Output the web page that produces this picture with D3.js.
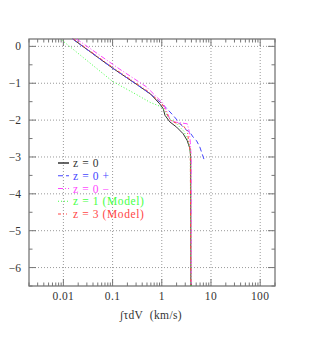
<!DOCTYPE html>
<html>
<head>
<meta charset="utf-8">
<script src="https://cdn.jsdelivr.net/npm/d3@7/dist/d3.min.js"></script>
<style>
  body { margin: 0; background: #fff; }
</style>
</head>
<body>
<div id="chart"></div>
<script>
// Series: [tau*dV (km/s), log value]
const z0 = [[0.0155, 0.2], [0.03, -0.08], [0.1, -0.59], [0.3, -1.02], [0.6, -1.3], [0.91, -1.56],
  [1.07, -1.69], [1.16, -1.87], [1.46, -2.05], [2.0, -2.19], [2.72, -2.37], [3.27, -2.55],
  [3.72, -2.77], [3.87, -3.0], [3.9, -6.5]];
const z0plus = [[0.0155, 0.2], [0.03, -0.08], [0.1, -0.59], [0.3, -1.02], [0.6, -1.3], [1.0, -1.55],
  [1.25, -1.68], [1.7, -1.87], [2.5, -2.14], [3.18, -2.27], [3.72, -2.33], [4.33, -2.46],
  [5.08, -2.56], [5.93, -2.73], [6.4, -2.86], [7.5, -3.13]];
const z0minus = [[0.0185, 0.2], [0.14, -0.62], [0.49, -1.1], [1.07, -1.55], [1.3, -1.8], [1.5, -2.02],
  [2.0, -2.06], [3.3, -2.1], [3.6, -2.3], [3.8, -2.6], [3.95, -3.0], [3.95, -6.5]];
const z1model = [[0.0093, 0.17], [0.1, -0.95], [0.3, -1.3], [0.58, -1.52], [0.9, -1.62], [1.1, -1.72],
  [1.4, -1.95], [2.0, -2.1], [2.8, -2.3], [3.4, -2.55], [3.8, -2.85], [3.92, -6.5]];
const z3model = [[0.016, 0.2], [0.1, -0.57], [0.5, -1.2], [1.0, -1.55], [1.2, -1.75], [1.4, -1.95],
  [1.7, -2.05], [2.7, -2.14], [3.3, -2.3], [3.5, -2.55], [3.8, -2.85], [3.9, -6.5]];

const seriesNames = ["z = 0", "z = 0 +", "z = 0 \u2212", "z = 1 (Model)", "z = 3 (Model)"];
const seriesColors = ["#333333", "#4646ff", "#ff46ff", "#46ff46", "#ff4646"];
const seriesDash = [null, "5,3", "5,2,1,2", "1,2", "3,2,1,2,1,2"];
const seriesData = [z0, z0plus, z0minus, z1model, z3model];

const xTicks = [0.01, 0.1, 1, 10, 100];
const xTickLabels = ["0.01", "0.1", "1", "10", "100"];
const yTicks = [0, -1, -2, -3, -4, -5, -6];

const font = "'Liberation Serif', 'Times New Roman', serif";
const width = 314, height = 344;
const margin = { top: 39, right: 39, bottom: 58, left: 29 };

const svg = d3.select("#chart").append("svg")
  .attr("width", width)
  .attr("height", height)
  .attr("font-family", font);

const x = d3.scaleLog().domain([0.002, 200]).range([margin.left, width - margin.right]);
const y = d3.scaleLinear().domain([-6.5, 0.2]).range([height - margin.bottom, margin.top]);

// grid
svg.append("g").selectAll("line")
  .data(xTicks).join("line")
  .attr("x1", d => x(d)).attr("x2", d => x(d))
  .attr("y1", y.range()[0]).attr("y2", y.range()[1])
  .attr("stroke", "#999").attr("stroke-dasharray", "1,2");
svg.append("g").selectAll("line")
  .data(yTicks).join("line")
  .attr("y1", d => y(d)).attr("y2", d => y(d))
  .attr("x1", x.range()[0]).attr("x2", x.range()[1])
  .attr("stroke", "#999").attr("stroke-dasharray", "1,2");

// minor ticks
const minorX = [];
for (let e = -3; e <= 2; e++) {
  for (let m = 1; m <= 9; m++) {
    const v = m * Math.pow(10, e);
    if (v >= 0.002 && v <= 200) minorX.push(v);
  }
}
const minorY = d3.range(-6.5, 0.21, 0.5);

const axisG = svg.append("g").attr("stroke", "#777").attr("stroke-width", 1);
const yb = y.range()[0], yt = y.range()[1], xl = x.range()[0], xr = x.range()[1];
minorX.forEach(v => {
  const len = xTicks.includes(v) ? 7 : 3.5;
  axisG.append("line").attr("x1", x(v)).attr("x2", x(v)).attr("y1", yb).attr("y2", yb - len);
  axisG.append("line").attr("x1", x(v)).attr("x2", x(v)).attr("y1", yt).attr("y2", yt + len);
});
minorY.forEach(v => {
  const len = Number.isInteger(v) ? 7 : 3.5;
  axisG.append("line").attr("y1", y(v)).attr("y2", y(v)).attr("x1", xl).attr("x2", xl + len);
  axisG.append("line").attr("y1", y(v)).attr("y2", y(v)).attr("x1", xr).attr("x2", xr - len);
});

// frame
svg.append("rect")
  .attr("x", xl).attr("y", yt)
  .attr("width", xr - xl).attr("height", yb - yt)
  .attr("fill", "none").attr("stroke", "#777").attr("stroke-width", 1.3);

// tick labels
svg.append("g").selectAll("text")
  .data(xTicks).join("text")
  .attr("x", d => x(d)).attr("y", yb + 13.5)
  .attr("text-anchor", "middle")
  .attr("font-size", 11.5).attr("fill", "#333")
  .attr("letter-spacing", 0.4)
  .text((d, i) => xTickLabels[i]);
svg.append("g").selectAll("text")
  .data(yTicks).join("text")
  .attr("x", xl - 8).attr("y", d => y(d) + 4)
  .attr("text-anchor", "end")
  .attr("font-size", 11.5).attr("fill", "#333")
  .text(d => d === 0 ? "0" : "\u2212" + Math.abs(d));

// axis title
svg.append("text")
  .attr("x", 151).attr("y", 319)
  .attr("text-anchor", "middle")
  .attr("font-size", 11.5).attr("fill", "#333")
  .attr("letter-spacing", 0.4)
  .attr("xml:space", "preserve")
  .text("\u222B\u03C4dV  (km/s)");

// curves
const plotG = svg.append("g");
seriesData.forEach((data, i) => {
  plotG.append("path")
    .datum(data)
    .attr("d", d3.line().x(d => x(d[0])).y(d => y(d[1])))
    .attr("fill", "none")
    .attr("stroke", seriesColors[i])
    .attr("stroke-width", 1)
    .attr("stroke-dasharray", seriesDash[i]);
});

// legend
const legend = svg.append("g");
seriesNames.forEach((name, i) => {
  const ly = 163 + i * 12.75;
  legend.append("line")
    .attr("x1", 58).attr("x2", 69).attr("y1", ly).attr("y2", ly)
    .attr("stroke", seriesColors[i])
    .attr("stroke-width", i === 0 ? 1.5 : 1)
    .attr("stroke-dasharray", seriesDash[i]);
  legend.append("text")
    .attr("x", 73).attr("y", ly + 4)
    .attr("font-size", 11.5)
    .attr("letter-spacing", 0.6)
    .attr("fill", seriesColors[i])
    .attr("xml:space", "preserve")
    .text(name);
});
</script>
</body>
</html>
